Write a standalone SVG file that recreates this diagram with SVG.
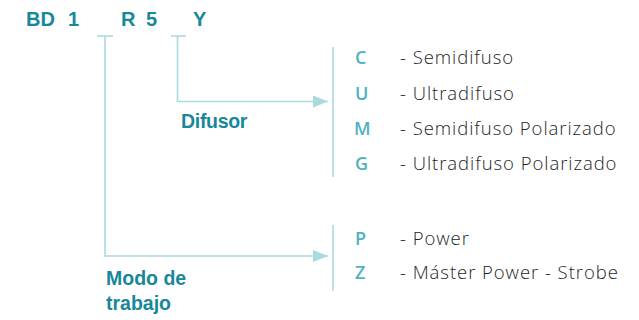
<svg xmlns="http://www.w3.org/2000/svg" width="639" height="320" viewBox="0 0 639 320">
<style>
.hd{font-family:"Liberation Sans",Arial,sans-serif;font-weight:bold;font-size:20px;fill:#17889a}
.lb{font-family:"Liberation Sans",Arial,sans-serif;font-weight:bold;font-size:19.5px;fill:#17889a}
.k{font-family:"Open Sans","Liberation Sans",sans-serif;font-weight:600;font-size:18px;fill:#4fb2c0}
.t{font-family:"Open Sans","Liberation Sans",sans-serif;font-weight:300;font-size:18.5px;fill:#1e1e1e;letter-spacing:0.95px}
.ln{fill:none;stroke:#abd9e0;stroke-width:1.6}
</style>
<defs>
<marker id="ah" markerUnits="userSpaceOnUse" markerWidth="16" markerHeight="12" refX="15" refY="6" orient="auto">
<path d="M0,0 L15,6 L0,12 Z" fill="#abd9e0"/>
</marker>
</defs>
<g id="code">
<text class="hd" x="26" y="26">BD</text>
<text class="hd" x="68" y="26">1</text>
<text class="hd" x="121" y="26">R</text>
<text class="hd" x="146" y="26">5</text>
<text class="hd" x="193" y="26">Y</text>
</g>
<g id="connectors">
<path class="ln" d="M97,36 H113"/>
<path class="ln" d="M171,36 H186"/>
<path class="ln" d="M177.5,36 V101.5 H328" marker-end="url(#ah)"/>
<path class="ln" d="M105,36 V256 H328" marker-end="url(#ah)"/>
<path class="ln" d="M333,47 V177"/>
<path class="ln" d="M333,225 V291"/>
</g>
<g id="difusor-label">
<text class="lb" x="181" y="128" letter-spacing="-0.3">Difusor</text>
</g>
<g id="modo-label">
<text class="lb" x="106" y="285">Modo de</text>
<text class="lb" x="106" y="310">trabajo</text>
</g>
<g id="difusor-options">
<text class="k" x="355" y="64">C</text><text class="t" x="400" y="64">- Semidifuso</text>
<text class="k" x="355" y="100">U</text><text class="t" x="400" y="100">- Ultradifuso</text>
<text class="k" x="354" y="135">M</text><text class="t" x="400" y="135">- Semidifuso Polarizado</text>
<text class="k" x="355" y="170">G</text><text class="t" x="400" y="170">- Ultradifuso Polarizado</text>
</g>
<g id="modo-options">
<text class="k" x="355" y="245">P</text><text class="t" x="400" y="245">- Power</text>
<text class="k" x="355" y="279">Z</text><text class="t" x="400" y="279">- Máster Power - Strobe</text>
</g>
</svg>
